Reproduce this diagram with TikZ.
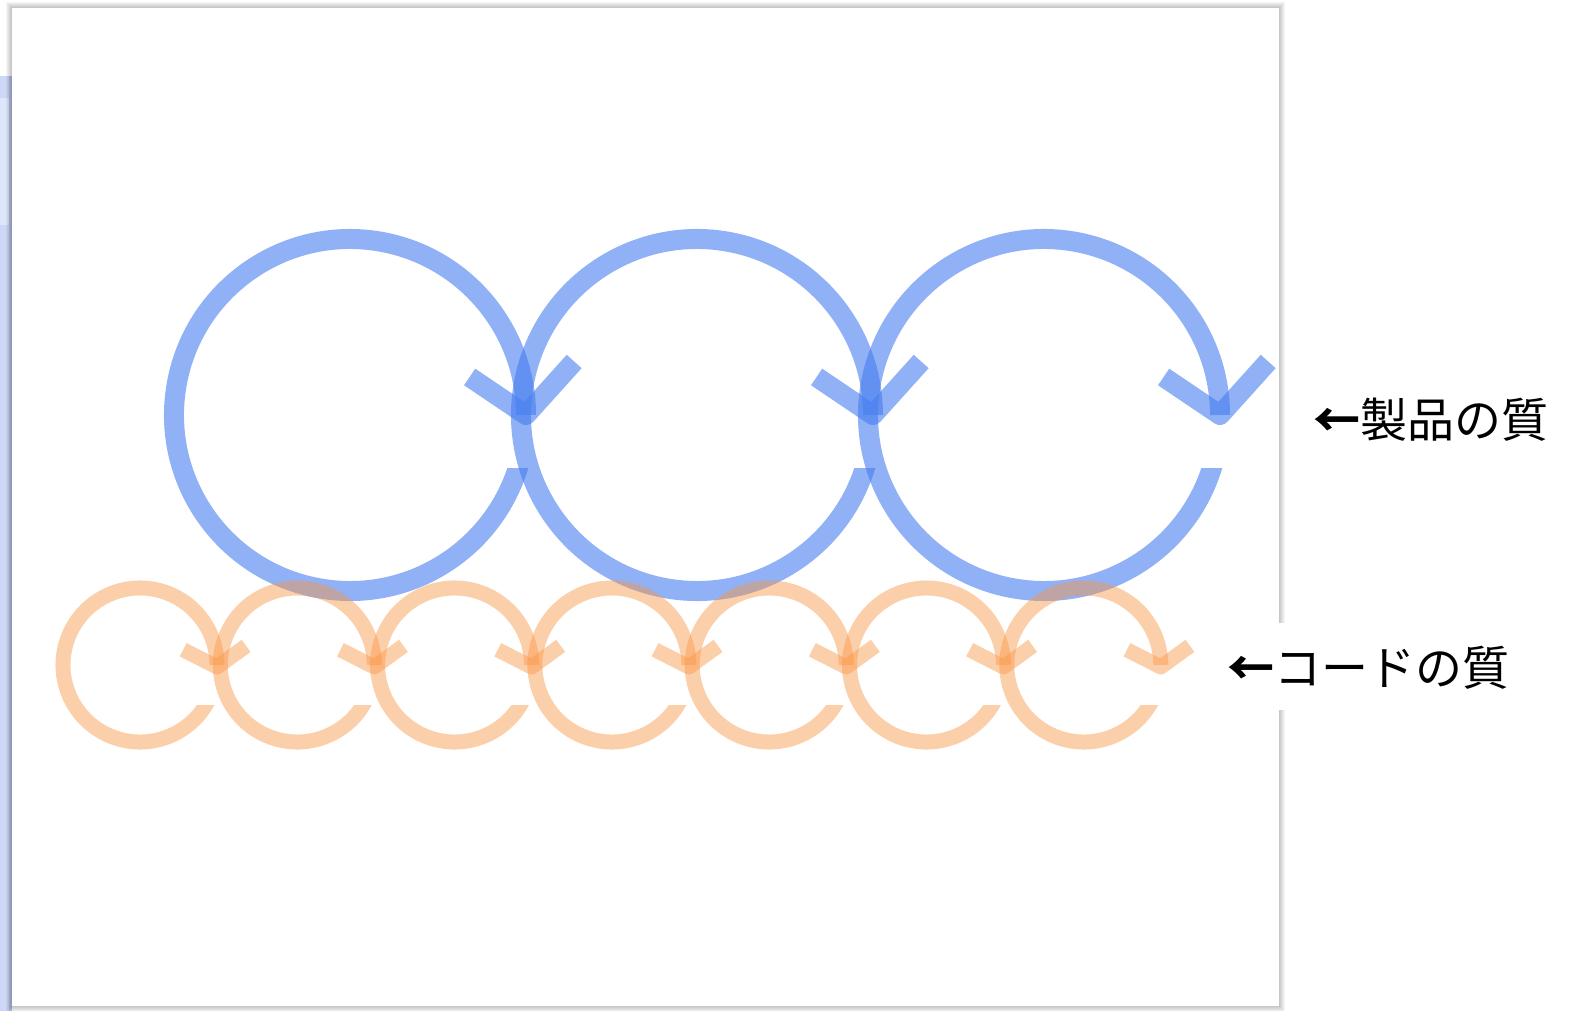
\documentclass[tikz,border=0pt]{standalone}
\usepackage{fontspec}
\newfontfamily\jp{Noto Sans CJK JP}
\definecolor{bluering}{RGB}{70,125,240}
\definecolor{orering}{RGB}{250,150,70}
\definecolor{stripA}{RGB}{205,216,246}
\definecolor{stripB}{RGB}{222,230,250}
\definecolor{stripEdge}{RGB}{185,196,232}
\tikzset{
  bluearc/.style={draw=bluering, draw opacity=0.6, line width=20pt},
  orarc/.style={draw=orering, draw opacity=0.45, line width=15pt},
  bluehead/.style={bluearc, line join=round},
  orhead/.style={orarc, line join=round},
  qlabel/.style={font=\jp\fontsize{47pt}{50pt}\selectfont, text=black, inner sep=0pt, anchor=west},
}
\newcommand{\larr}{{\bfseries ←}}
\begin{document}
\begin{tikzpicture}[x=1pt,y=1pt]
\useasboundingbox (0,0) rectangle (1569,-1011);
\fill[white] (0,0) rectangle (1569,-1011);
% left window strip
\fill[stripA] (0,-76) rectangle (12,-98);
\fill[stripB] (0,-98) rectangle (12,-225);
\fill[stripA] (0,-225) rectangle (12,-1011);
\fill[stripEdge] (9,-76) rectangle (12,-1011);
% canvas shadow
\foreach \d in {6,5,4,3,2,1}
  \fill[black, opacity=0.04] (12-\d,-8+\d) rectangle (1279+\d,-1006-\d);
% canvas
\fill[white] (12,-8) rectangle (1279,-1006);
\begin{scope}
\clip (12,-8) rectangle (1279,-1006);
% blue cycles
\foreach \cx in {350,697,1044}{
  \begin{scope}
    \clip (\cx-300,0) -- (\cx+300,0) -- (\cx+300,-430) -- (\cx+120,-430)
          -- (\cx+120,-468) -- (\cx+300,-468) -- (\cx+300,-1011) -- (\cx-300,-1011) -- cycle;
    \draw[bluearc] (\cx,-415) ++(-11:176) arc[start angle=-11, end angle=-360, radius=176];
  \end{scope}
  \draw[bluehead] (\cx+176,-415) ++(146:68) -- (\cx+176,-415) -- ++(48:72);
}
% orange cycles
\foreach \i in {0,...,6}{
  \pgfmathsetmacro{\ox}{140+157.3*\i}
  \begin{scope}
    \clip (\ox-150,0) -- (\ox+150,0) -- (\ox+150,-680) -- (\ox+40,-680)
          -- (\ox+40,-705) -- (\ox+150,-705) -- (\ox+150,-1011) -- (\ox-150,-1011) -- cycle;
    \draw[orarc] (\ox,-665) ++(-20:77) arc[start angle=-20, end angle=-360, radius=77];
  \end{scope}
  \draw[orhead] (\ox+77,-667) ++(153:38) -- (\ox+77,-667) -- ++(36:36);
}
\end{scope}
% labels
\node[qlabel] (prodq) at (1313,-420) {\larr 製品の質};
\fill[white] (1205,-623) rectangle (1515,-710);
\node[qlabel] (codeq) at (1227,-668) {\larr コードの質};
\end{tikzpicture}
\end{document}
